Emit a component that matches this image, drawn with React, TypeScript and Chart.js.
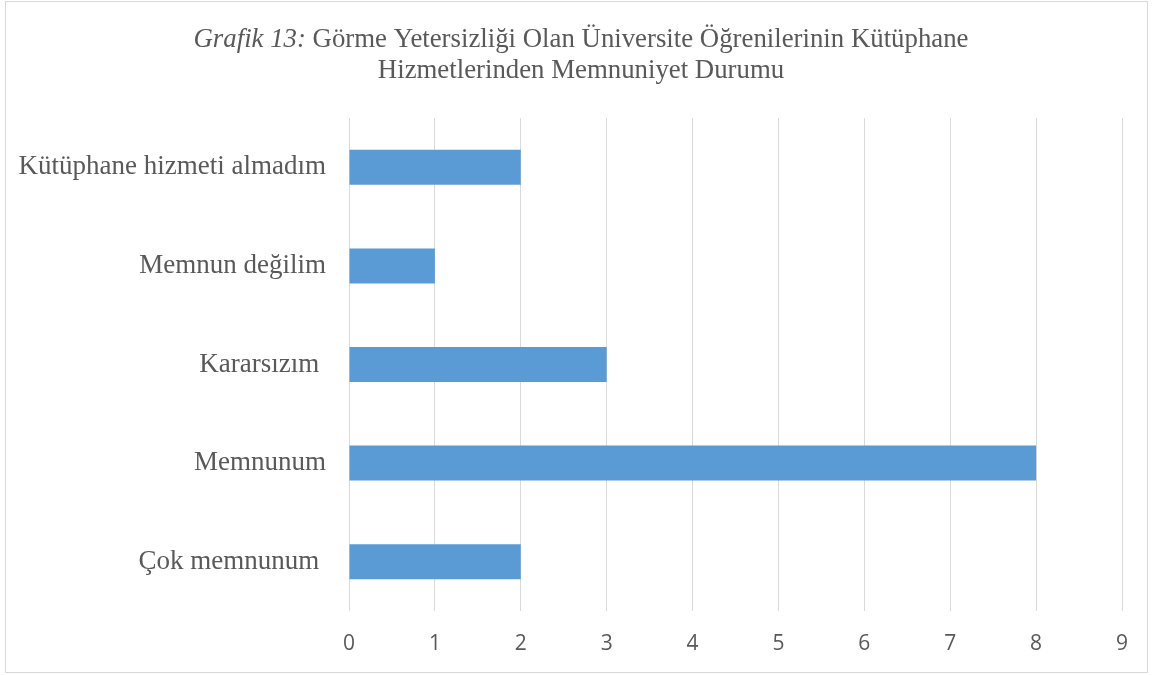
import React, { useEffect, useRef } from "react";
import { Chart, registerables } from "chart.js";

Chart.register(...registerables);

const categories = [
  "Kütüphane hizmeti almadım",
  "Memnun değilim",
  "Kararsızım ",
  "Memnunum",
  "Çok memnunum ",
];
const values = [2, 1, 3, 8, 2];
const titleItalic = "Grafik 13:";
const titleLine1 = " Görme Yetersizliği Olan Üniversite Öğrenilerinin Kütüphane";
const titleLine2 = "Hizmetlerinden Memnuniyet Durumu";
const xMin = 0;
const xMax = 9;

const TEXT = "#595959";
const SERIF = '"Liberation Serif", "Times New Roman", serif';

const decorPlugin = {
  id: "decor",
  beforeDraw(chart: any) {
    const ctx = chart.ctx;
    ctx.save();
    ctx.fillStyle = "#ffffff";
    ctx.fillRect(0, 0, chart.width, chart.height);
    ctx.strokeStyle = "#d9d9d9";
    ctx.lineWidth = 1;
    ctx.strokeRect(5.5, 1.5, 1142, 671);
    ctx.restore();
  },
  afterDraw(chart: any) {
    const ctx = chart.ctx;
    ctx.save();
    ctx.fillStyle = TEXT;
    ctx.textBaseline = "alphabetic";
    const cx = 581;
    const italicFont = "italic 26.8px " + SERIF;
    const normalFont = "normal 26.8px " + SERIF;
    ctx.font = italicFont;
    const w1 = ctx.measureText(titleItalic).width;
    ctx.font = normalFont;
    const w2 = ctx.measureText(titleLine1).width;
    const start = cx - (w1 + w2) / 2;
    ctx.textAlign = "left";
    ctx.font = italicFont;
    ctx.fillText(titleItalic, start, 47);
    ctx.font = normalFont;
    ctx.fillText(titleLine1, start + w1, 47);
    ctx.textAlign = "center";
    ctx.fillText(titleLine2, cx, 78);
    ctx.restore();
  },
};

export default function App() {
  const ref = useRef<HTMLCanvasElement | null>(null);
  useEffect(() => {
    document.body.style.margin = "0";
    if (!ref.current) return;
    const chart = new Chart(ref.current, {
      type: "bar",
      data: {
        labels: categories,
        datasets: [
          {
            data: values,
            backgroundColor: "#5b9bd5",
            borderWidth: 0,
            categoryPercentage: 0.355,
            barPercentage: 1,
          },
        ],
      },
      options: {
        indexAxis: "y",
        animation: false,
        responsive: false,
        maintainAspectRatio: false,
        layout: { padding: { top: 118, right: 31, left: 0, bottom: 0 } },
        plugins: {
          legend: { display: false },
          title: { display: false },
          tooltip: { enabled: false },
        },
        scales: {
          x: {
            min: xMin,
            max: xMax,
            ticks: {
              stepSize: 1,
              padding: 20,
              color: TEXT,
              font: { family: "'Open Sans', sans-serif", size: 21 },
            },
            grid: { color: "#d9d9d9", drawTicks: false, lineWidth: 1 },
            border: { display: false },
            afterFit(scale: any) {
              scale.height = 64;
            },
          },
          y: {
            ticks: {
              padding: 23,
              color: TEXT,
              font: { family: SERIF, size: 27 },
            },
            grid: { display: false, drawTicks: false },
            border: { display: false },
            afterFit(scale: any) {
              scale.width = 349;
            },
          },
        },
      },
      plugins: [decorPlugin],
    } as any);
    return () => chart.destroy();
  }, []);
  return (
    <div style={{ width: 1153, height: 675 }}>
      <canvas ref={ref} width={1153} height={675} style={{ display: "block" }} />
    </div>
  );
}
